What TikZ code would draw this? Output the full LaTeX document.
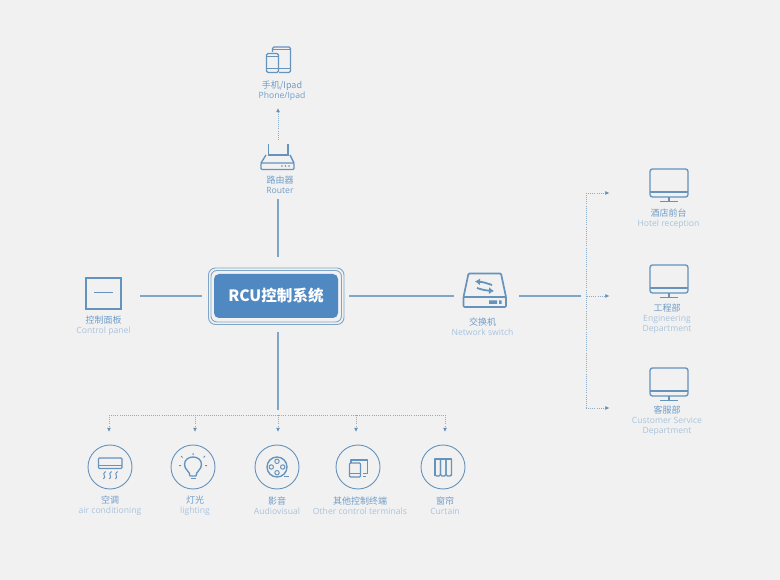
\documentclass[tikz,border=0pt]{standalone}
\usepackage{fontspec}
\setmainfont{Open Sans}
\newfontfamily\cjk{Noto Sans CJK SC}
\usetikzlibrary{arrows.meta}
\definecolor{bg}{HTML}{F1F1F1}
\definecolor{icon}{HTML}{6593BC}
\definecolor{solidc}{HTML}{7FA6C8}
\definecolor{cnc}{HTML}{6F9CC8}
\definecolor{enc}{HTML}{A9C3DC}
\definecolor{rcuc}{HTML}{5089C2}
\definecolor{dotc}{HTML}{8FACC6}
\definecolor{tipc}{HTML}{6590B5}
\tikzset{
  x=1pt,y=-1pt,
  lab/.style={align=center,inner sep=0pt,font=\fontsize{8.6}{10}\selectfont,text=enc},
  solidline/.style={draw=solidc,line width=1.2pt},
  dotline/.style={draw=dotc,line width=0.8pt,dash pattern=on 1pt off 1.1pt},
  dotarrow/.style={dotline,-{Latex[length=4.2pt,width=4pt,color=tipc,fill=tipc]}},
  ic/.style={draw=icon,line width=1.35pt,line join=round},
  icthin/.style={draw=icon,line width=1pt,line join=round},
  ring/.style={circle,draw=icon,line width=0.9pt,inner sep=0pt,minimum size=44pt},
}
\newcommand{\lb}[4]{\node[lab] (#1) at (#2) {{\cjk\fontsize{9}{10}\selectfont\color{cnc}#3}\\[0pt]#4};}
\newcommand{\monitor}[2]{%
  \draw[ic,rounded corners=2.5pt] (650,#1) rectangle (688,#1+28);
  \draw[ic] (650,#1+23) -- (688,#1+23);
  \draw[ic] (669,#1+28) -- (669,#1+32);
  \draw[ic] (660,#1+32.5) -- (678,#1+32.5);
  \node[inner sep=0pt,minimum width=38pt,minimum height=32pt] (#2) at (669,#1+16) {};}
\begin{document}
\begin{tikzpicture}
\useasboundingbox (0,0) rectangle (780,580);
\fill[bg] (0,0) rectangle (780,580);

% central system
\draw[draw=solidc,line width=0.9pt,rounded corners=7pt] (208.5,268) rectangle (344,324.5);
\draw[draw=solidc,line width=0.9pt,rounded corners=6pt] (211,270.5) rectangle (341.5,322);
\node[fill=rcuc,rounded corners=5pt,minimum width=124pt,minimum height=44pt,inner sep=0pt,
  text=white,font=\cjk\fontsize{15.6}{16}\selectfont\bfseries] (rcu) at (276,296) {RCU控制系统};

% control panel
\node[draw=icon,line width=1.2pt,minimum width=35pt,minimum height=31pt,inner sep=0pt] (panel) at (103.5,293.5) {};
\draw[icthin] (94,293) -- (113,293);
\lb{panellab}{103.5,325.5}{控制面板}{Control panel}

% tablet and phone
\draw[ic,rounded corners=1.5pt] (272.5,52) -- (272.5,47) -- (290.5,47) -- (290.5,72.5) -- (279,72.5);
\draw[ic,rounded corners=1.5pt,fill=bg] (266.5,53.5) rectangle (278.5,72.5);
\draw[icthin] (266.5,56.5) -- (278.5,56.5) (266.5,69) -- (278.5,69);
\draw[icthin] (279,69) -- (290.5,69) (272.5,50) -- (290.5,50);
\coordinate (phone) at (278.5,60);
\lb{phonelab}{282,90.5}{手机/Ipad}{\textcolor{cnc}{Phone/Ipad}}

% router
\draw[ic] (268.5,144) -- (268.5,156) (288,144) -- (288,156);
\draw[ic] (268.5,155) -- (288,155);
\draw[ic] (266,155) -- (261,163) (290,155) -- (294,163);
\draw[ic,rounded corners=1pt] (261,163) rectangle (294,169.5);
\fill[icon] (282,166) circle (0.8) (285.5,166) circle (0.8) (289,166) circle (0.8);
\node[inner sep=0pt,minimum width=33pt,minimum height=26pt] (router) at (277.5,157) {};
\lb{routerlab}{280,184.5}{路由器}{\textcolor{cnc}{Router}}

% switch
\draw[ic,line width=1.7pt,rounded corners=1pt] (463.5,297) -- (468.5,273.5) -- (501,273.5) -- (506,297) -- (506,307) -- (463.5,307) -- cycle;
\draw[ic,line width=1.7pt] (463.5,297) -- (506,297);
\fill[icon] (489,300.5) rectangle (497,304 ) (499,300.5) rectangle (501.5,304);
\draw[icon,line width=1.8pt,-{Latex[length=5pt,width=7pt]}] (492,285) .. controls (487,283.5) and (484,282) .. (475,281.5);
\draw[icon,line width=1.8pt,-{Latex[length=5pt,width=7pt]}] (477,288) .. controls (483,290) and (486,290.5) .. (494,291);
\node[inner sep=0pt,minimum width=43pt,minimum height=34pt] (switch) at (485,290) {};
\lb{switchlab}{482.5,327}{交换机}{Network switch}

% monitors
\monitor{169}{mona}
\lb{monalab}{668.5,219}{酒店前台}{Hotel reception}
\monitor{265}{monb}
\lb{monblab}{667,319}{工程部}{Engineering\\Department}
\monitor{368}{monc}
\lb{monclab}{667,421}{客服部}{Customer Service\\Department}

% terminals
\node[ring] (ac) at (110,467) {};
\draw[ic,rounded corners=1pt] (98.5,458) rectangle (122,468.5);
\draw[icthin] (98.5,465) -- (122,465);
\foreach \xx in {104,110,116}{
  \draw[icthin] (\xx+1.5,471.5) .. controls (\xx-3,474.5) and (\xx+3,476) .. (\xx-0.5,479);
}
\lb{aclab}{110,505.5}{空调}{air conditioning}

\node[ring] (light) at (193,467) {};
\draw[ic] (190,476) .. controls (190,471) and (184.5,470) .. (184.5,464.5)
  .. controls (184.5,454.5) and (201.5,454.5) .. (201.5,464.5)
  .. controls (201.5,470) and (196,471) .. (196,476) -- cycle;
\draw[ic,line width=1.8pt] (190.5,478.5) -- (195.5,478.5);
\draw[icthin] (193,453) -- (193,455) (181,456) -- (182.5,457.5) (205,456) -- (203.5,457.5)
  (179,465.5) -- (181,465.5) (205,465.5) -- (207,465.5);
\lb{lightlab}{195,505.5}{灯光}{lighting}

\node[ring] (av) at (277,467) {};
\draw[ic] (277,467) circle (10);
\foreach \a in {0,90,180,270}{\draw[icthin] (277,467) ++(\a:5.7) circle (2.2);}
\draw[icthin] (284,476.5) -- (289,476.5);
\lb{avlab}{277,505.5}{影音}{Audiovisual}

\node[ring] (other) at (358,467) {};
\draw[ic] (351,463) -- (351,460) -- (367.5,460) -- (367.5,473.5) -- (363,473.5);
\draw[ic,rounded corners=1pt] (349.5,463) rectangle (360.5,477);
\draw[icthin] (349.5,473.5) -- (360.5,473.5);
\draw[icthin] (363,476.5) -- (366,476.5);
\lb{otherlab}{360,505.5}{其他控制终端}{Other control terminals}

\node[ring] (curtain) at (443,467) {};
\draw[ic] (435,476) -- (435,459) -- (451.5,459) -- (451.5,476);
\draw[ic,rounded corners=1.5pt] (435,459) -- (435,476) -- (440.5,476) -- (440.5,459);
\draw[ic,rounded corners=1.5pt] (440.5,459) -- (440.5,476) -- (446,476) -- (446,459);
\draw[ic,rounded corners=1.5pt] (446,459) -- (446,476) -- (451.5,476) -- (451.5,459);
\lb{curtainlab}{445,505.5}{窗帘}{Curtain}

% free connector ends
\coordinate (topA) at (278,257);
\coordinate (topB) at (278,199);
\coordinate (upA) at (278,140);
\coordinate (upB) at (278,108);
\coordinate (leftA) at (140,296);
\coordinate (leftB) at (202,296);
\coordinate (rightA) at (349,296);
\coordinate (rightB) at (454,296);
\coordinate (swA) at (519,296);
\coordinate (swB) at (581,296);
\coordinate (downA) at (278,332);
\coordinate (downB) at (278,410);
\coordinate (busL) at (109,415);
\coordinate (busR) at (445,415);
\coordinate (vT) at (586,193);
\coordinate (vB) at (586,408);

% solid connectors
\draw[solidline] (topA) -- (topB);
\draw[solidline] (leftA) -- (leftB);
\draw[solidline] (rightA) -- (rightB);
\draw[solidline] (swA) -- (swB);
\draw[solidline] (downA) -- (downB);

% dotted connectors
\draw[dotarrow] (upA) -- (upB);
\draw[dotline] (busL) -- (busR);
\foreach \xx/\nm in {109/a,195/b,278/c,356/d,445/e}{
  \coordinate (drop\nm) at (\xx,415);
  \coordinate (dropend\nm) at (\xx,432);
  \draw[dotarrow] (drop\nm) -- (dropend\nm);
}
\draw[dotline] (vT) -- (vB);
\coordinate (endA) at (609.5,193);
\coordinate (endB) at (609.5,296);
\coordinate (endC) at (609.5,408);
\coordinate (midB) at (587,296);
\draw[dotarrow] (vT) -- (endA);
\draw[dotarrow] (midB) -- (endB);
\draw[dotarrow] (vB) -- (endC);
\end{tikzpicture}
\end{document}
